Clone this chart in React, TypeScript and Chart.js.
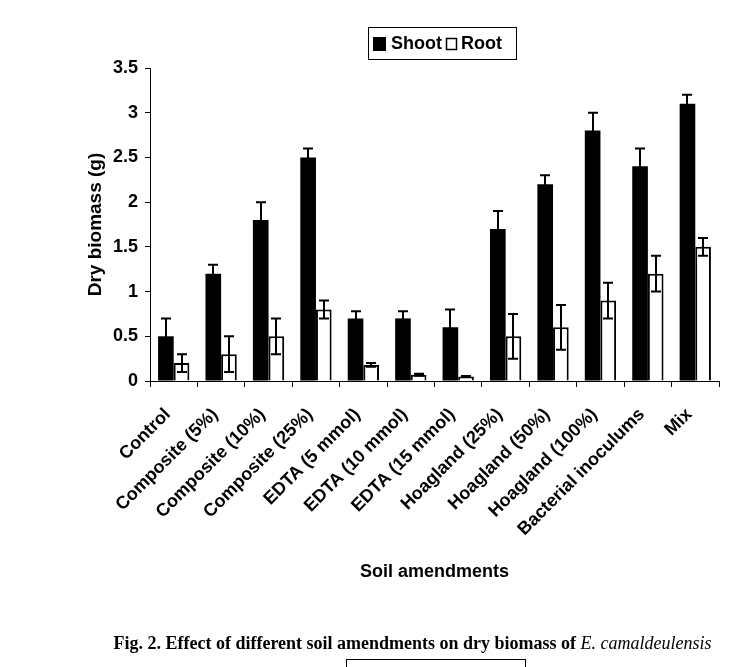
import React, { useEffect, useRef } from "react";
import { Chart, registerables } from "chart.js";

Chart.register(...registerables);

const categories = [
  "Control",
  "Composite (5%)",
  "Composite (10%)",
  "Composite (25%)",
  "EDTA (5 mmol)",
  "EDTA (10 mmol)",
  "EDTA (15 mmol)",
  "Hoagland (25%)",
  "Hoagland (50%)",
  "Hoagland (100%)",
  "Bacterial inoculums",
  "Mix",
];
const shootValues = [0.5, 1.2, 1.8, 2.5, 0.7, 0.7, 0.6, 1.7, 2.2, 2.8, 2.4, 3.1];
const shootErrors = [0.2, 0.1, 0.2, 0.1, 0.08, 0.08, 0.2, 0.2, 0.1, 0.2, 0.2, 0.1];
const rootValues = [0.2, 0.3, 0.5, 0.8, 0.18, 0.07, 0.05, 0.5, 0.6, 0.9, 1.2, 1.5];
const rootErrors = [0.1, 0.2, 0.2, 0.1, 0.02, 0.01, 0.005, 0.25, 0.25, 0.2, 0.2, 0.1];
const seriesNames = ["Shoot", "Root"];
const yTitle = "Dry biomass (g)";
const xTitle = "Soil amendments";

const FONT = '"Liberation Sans", Arial, sans-serif';

const errorBarPlugin = {
  id: "errorBars",
  afterDatasetsDraw(chart: any) {
    const ctx = chart.ctx;
    const ys = chart.scales.y;
    const errs = [shootErrors, rootErrors];
    ctx.save();
    ctx.strokeStyle = "#000";
    ctx.lineWidth = 2;
    chart.data.datasets.forEach((ds: any, i: number) => {
      const meta = chart.getDatasetMeta(i);
      meta.data.forEach((bar: any, j: number) => {
        const v = ds.data[j];
        const e = errs[i][j];
        const x = Math.round(bar.x);
        const yt = ys.getPixelForValue(v + e);
        const yb = ys.getPixelForValue(Math.max(0, v - e));
        const cap = 5;
        ctx.beginPath();
        ctx.moveTo(x, yt);
        ctx.lineTo(x, yb);
        ctx.moveTo(x - cap, yt);
        ctx.lineTo(x + cap, yt);
        ctx.moveTo(x - cap, yb);
        ctx.lineTo(x + cap, yb);
        ctx.stroke();
      });
    });
    ctx.restore();
  },
};

const decorPlugin = {
  id: "decor",
  afterDraw(chart: any) {
    const ctx = chart.ctx;
    const area = chart.chartArea;
    ctx.save();
    ctx.fillStyle = "#000";
    ctx.strokeStyle = "#000";
    // Y title
    ctx.font = `bold 19px ${FONT}`;
    ctx.textAlign = "center";
    ctx.textBaseline = "middle";
    ctx.save();
    ctx.translate(96, (area.top + area.bottom) / 2);
    ctx.rotate(-Math.PI / 2);
    ctx.fillText(yTitle, 0, 0);
    ctx.restore();
    // X title
    ctx.font = `bold 18px ${FONT}`;
    ctx.fillText(xTitle, (area.left + area.right) / 2, 572);
    // Legend
    ctx.lineWidth = 1;
    ctx.strokeRect(368.5, 27.5, 148, 32);
    ctx.textAlign = "left";
    ctx.fillRect(373, 37, 13, 14);
    ctx.fillText(seriesNames[0], 391, 44);
    ctx.lineWidth = 1.5;
    ctx.strokeRect(446.5, 38.5, 10, 11);
    ctx.fillText(seriesNames[1], 461, 44);
    ctx.restore();
  },
};

export default function App() {
  const ref = useRef<HTMLCanvasElement>(null);
  useEffect(() => {
    document.body.style.margin = "0";
    const chart = new Chart(ref.current as HTMLCanvasElement, {
      type: "bar",
      data: {
        labels: categories,
        datasets: [
          {
            label: seriesNames[0],
            data: shootValues,
            backgroundColor: "#000",
            borderColor: "#000",
            borderWidth: 0,
          },
          {
            label: seriesNames[1],
            data: rootValues,
            backgroundColor: "#fff",
            borderColor: "#000",
            borderWidth: 2,
          },
        ],
      },
      options: {
        animation: false,
        responsive: false,
        devicePixelRatio: 1,
        layout: { padding: { top: 68, right: 18, left: 0, bottom: 0 } },
        datasets: { bar: { categoryPercentage: 0.66, barPercentage: 1 } },
        plugins: { legend: { display: false }, tooltip: { enabled: false } },
        scales: {
          x: {
            afterFit: (s: any) => {
              s.height = 286;
            },
            grid: {
              display: true,
              drawOnChartArea: false,
              tickLength: 6,
              color: "#000",
              offset: true,
            },
            border: { color: "#000", width: 1 },
            ticks: {
              color: "#000",
              font: { family: FONT, size: 18, weight: "bold" },
              maxRotation: 45,
              minRotation: 45,
              autoSkip: false,
              padding: 17,
              labelOffset: -6,
            },
          },
          y: {
            min: 0,
            max: 3.5,
            afterFit: (s: any) => {
              s.width = 150;
            },
            grid: {
              display: true,
              drawOnChartArea: false,
              tickLength: 5,
              color: "#000",
            },
            border: { color: "#000", width: 1 },
            ticks: {
              stepSize: 0.5,
              color: "#000",
              padding: 7,
              font: { family: FONT, size: 18, weight: "bold" },
              callback: (v: any) => String(Number(v)),
            },
          },
        },
      },
      plugins: [errorBarPlugin, decorPlugin],
    });
    return () => chart.destroy();
  }, []);
  return (
    <div style={{ position: "relative", width: 737, height: 667, background: "#fff" }}>
      <canvas ref={ref} width={737} height={667} style={{ position: "absolute", left: 0, top: 0 }} />
      <div
        style={{
          position: "absolute",
          left: 0,
          width: 737,
          top: 632,
          textAlign: "center",
          paddingLeft: 88,
          boxSizing: "border-box",
          fontFamily: '"Liberation Serif", "Times New Roman", serif',
          fontWeight: "bold",
          fontSize: 18,
          lineHeight: "22px",
          color: "#000",
          whiteSpace: "nowrap",
        }}
      >
        Fig. 2. Effect of different soil amendments on dry biomass of{" "}
        <i style={{ fontWeight: "normal" }}>E. camaldeulensis</i>
      </div>
      <div
        style={{
          position: "absolute",
          left: 346,
          top: 659,
          width: 178,
          height: 12,
          borderTop: "1px solid #000",
          borderLeft: "1px solid #000",
          borderRight: "1px solid #000",
        }}
      />
    </div>
  );
}
